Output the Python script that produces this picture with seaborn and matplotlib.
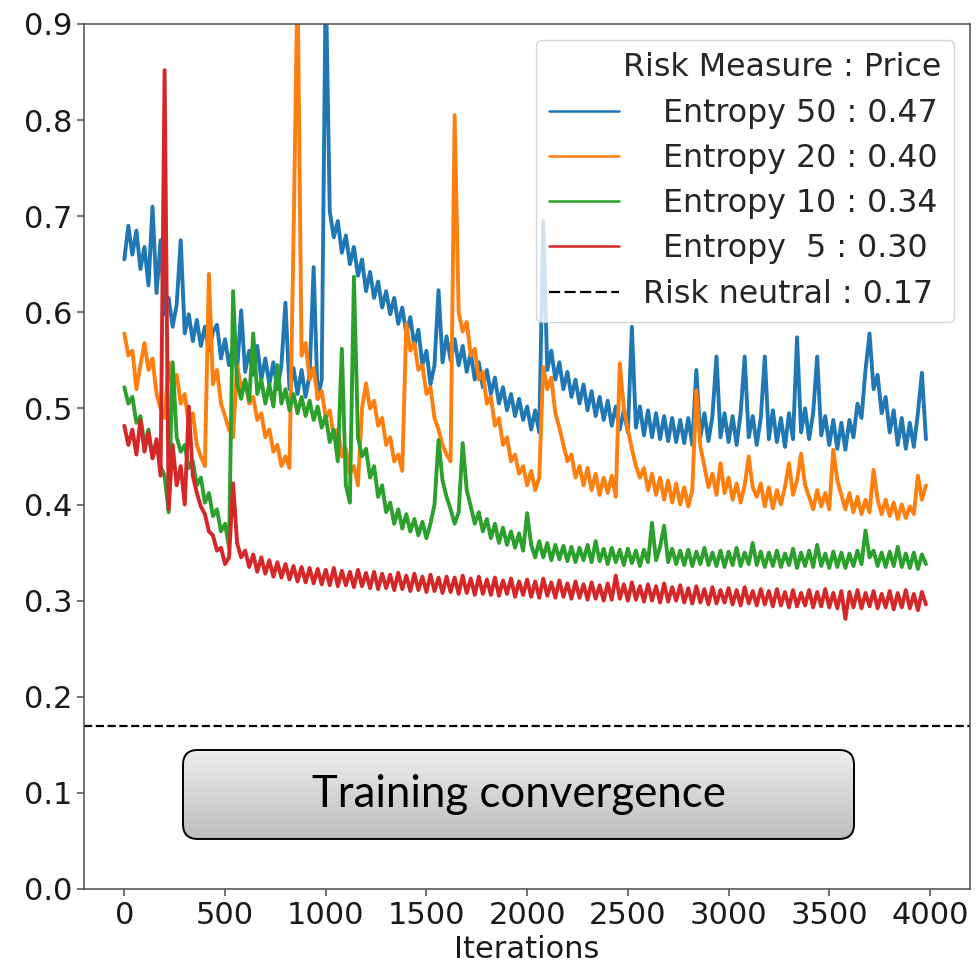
import numpy as np
import pandas as pd
import matplotlib
matplotlib.use("Agg")
import matplotlib.pyplot as plt
from matplotlib.lines import Line2D
from matplotlib.patches import FancyBboxPatch
import seaborn as sns

# ---- data ---------------------------------------------------------------
iterations = np.arange(0, 4000, 20)

entropy_50 = [
    0.655, 0.690, 0.660, 0.685, 0.645, 0.668, 0.628, 0.710, 0.620, 0.675,
    0.598, 0.615, 0.585, 0.608, 0.675, 0.578, 0.598, 0.570, 0.592, 0.565,
    0.585, 0.560, 0.580, 0.587, 0.552, 0.572, 0.545, 0.565, 0.540, 0.602,
    0.538, 0.560, 0.535, 0.565, 0.530, 0.552, 0.525, 0.548, 0.520, 0.545,
    0.610, 0.520, 0.542, 0.515, 0.540, 0.512, 0.535, 0.647, 0.510, 0.530,
    0.950, 0.705, 0.678, 0.695, 0.662, 0.680, 0.650, 0.668, 0.638, 0.655,
    0.622, 0.642, 0.615, 0.632, 0.605, 0.622, 0.598, 0.615, 0.588, 0.605,
    0.578, 0.595, 0.565, 0.582, 0.545, 0.560, 0.525, 0.545, 0.623, 0.548,
    0.575, 0.550, 0.572, 0.545, 0.565, 0.538, 0.558, 0.530, 0.548, 0.522,
    0.540, 0.515, 0.532, 0.505, 0.522, 0.498, 0.515, 0.492, 0.510, 0.488,
    0.502, 0.478, 0.498, 0.475, 0.695, 0.540, 0.560, 0.530, 0.548, 0.520,
    0.538, 0.512, 0.530, 0.505, 0.525, 0.498, 0.518, 0.492, 0.512, 0.488,
    0.508, 0.482, 0.502, 0.478, 0.498, 0.475, 0.585, 0.480, 0.502, 0.472,
    0.498, 0.470, 0.495, 0.468, 0.492, 0.466, 0.490, 0.465, 0.488, 0.464,
    0.490, 0.462, 0.540, 0.470, 0.495, 0.466, 0.492, 0.554, 0.470, 0.495,
    0.465, 0.492, 0.462, 0.495, 0.554, 0.470, 0.492, 0.462, 0.490, 0.554,
    0.468, 0.498, 0.465, 0.490, 0.460, 0.495, 0.468, 0.574, 0.475, 0.500,
    0.468, 0.495, 0.554, 0.472, 0.492, 0.462, 0.488, 0.458, 0.485, 0.457,
    0.488, 0.470, 0.505, 0.490, 0.540, 0.578, 0.520, 0.535, 0.495, 0.512,
    0.475, 0.498, 0.462, 0.490, 0.458, 0.485, 0.460, 0.495, 0.537, 0.468,
]

entropy_20 = [
    0.578, 0.555, 0.560, 0.520, 0.545, 0.568, 0.540, 0.552, 0.515, 0.500,
    0.490, 0.548, 0.520, 0.535, 0.505, 0.515, 0.482, 0.495, 0.462, 0.450,
    0.440, 0.640, 0.525, 0.540, 0.505, 0.492, 0.478, 0.470, 0.545, 0.520,
    0.530, 0.505, 0.512, 0.488, 0.495, 0.470, 0.478, 0.455, 0.462, 0.440,
    0.450, 0.438, 0.675, 0.950, 0.555, 0.568, 0.530, 0.542, 0.510, 0.518,
    0.490, 0.498, 0.470, 0.478, 0.450, 0.458, 0.432, 0.440, 0.420, 0.500,
    0.526, 0.500, 0.508, 0.482, 0.490, 0.462, 0.470, 0.445, 0.452, 0.435,
    0.588, 0.560, 0.568, 0.540, 0.545, 0.515, 0.522, 0.490, 0.478, 0.462,
    0.452, 0.445, 0.805, 0.600, 0.580, 0.590, 0.555, 0.562, 0.530, 0.538,
    0.505, 0.512, 0.482, 0.490, 0.462, 0.470, 0.445, 0.452, 0.432, 0.440,
    0.420, 0.435, 0.415, 0.428, 0.543, 0.520, 0.532, 0.495, 0.480, 0.462,
    0.445, 0.452, 0.428, 0.440, 0.420, 0.438, 0.415, 0.432, 0.410, 0.428,
    0.412, 0.430, 0.408, 0.547, 0.500, 0.478, 0.458, 0.440, 0.428, 0.438,
    0.415, 0.432, 0.410, 0.428, 0.405, 0.425, 0.402, 0.422, 0.400, 0.418,
    0.398, 0.415, 0.519, 0.460, 0.440, 0.418, 0.432, 0.410, 0.443, 0.412,
    0.428, 0.405, 0.422, 0.402, 0.420, 0.450, 0.418, 0.408, 0.422, 0.398,
    0.418, 0.396, 0.415, 0.400, 0.418, 0.443, 0.410, 0.425, 0.453, 0.420,
    0.408, 0.395, 0.415, 0.398, 0.412, 0.395, 0.457, 0.425, 0.410, 0.395,
    0.412, 0.392, 0.408, 0.390, 0.405, 0.392, 0.436, 0.405, 0.390, 0.405,
    0.388, 0.402, 0.385, 0.400, 0.386, 0.398, 0.390, 0.430, 0.405, 0.420,
]

entropy_10 = [
    0.522, 0.505, 0.512, 0.485, 0.492, 0.462, 0.478, 0.448, 0.465, 0.440,
    0.430, 0.392, 0.548, 0.470, 0.455, 0.462, 0.438, 0.445, 0.420, 0.428,
    0.402, 0.412, 0.388, 0.395, 0.372, 0.380, 0.355, 0.622, 0.525, 0.510,
    0.530, 0.508, 0.578, 0.515, 0.530, 0.505, 0.525, 0.502, 0.545, 0.505,
    0.520, 0.498, 0.515, 0.495, 0.512, 0.492, 0.508, 0.488, 0.502, 0.480,
    0.492, 0.465, 0.478, 0.445, 0.562, 0.420, 0.402, 0.637, 0.470, 0.450,
    0.458, 0.428, 0.440, 0.408, 0.420, 0.392, 0.402, 0.380, 0.395, 0.375,
    0.390, 0.372, 0.385, 0.368, 0.382, 0.365, 0.380, 0.400, 0.467, 0.425,
    0.408, 0.395, 0.380, 0.392, 0.464, 0.415, 0.398, 0.380, 0.392, 0.372,
    0.385, 0.365, 0.380, 0.360, 0.376, 0.358, 0.372, 0.355, 0.370, 0.352,
    0.391, 0.358, 0.345, 0.362, 0.345, 0.360, 0.342, 0.358, 0.343, 0.357,
    0.341, 0.356, 0.340, 0.355, 0.342, 0.358, 0.340, 0.362, 0.341, 0.354,
    0.338, 0.355, 0.340, 0.353, 0.337, 0.354, 0.339, 0.352, 0.336, 0.353,
    0.340, 0.381, 0.342, 0.356, 0.378, 0.340, 0.354, 0.338, 0.352, 0.337,
    0.353, 0.336, 0.351, 0.338, 0.355, 0.337, 0.350, 0.336, 0.352, 0.335,
    0.351, 0.337, 0.355, 0.336, 0.350, 0.338, 0.360, 0.337, 0.351, 0.335,
    0.350, 0.336, 0.352, 0.335, 0.349, 0.337, 0.354, 0.334, 0.350, 0.336,
    0.352, 0.335, 0.358, 0.336, 0.349, 0.334, 0.351, 0.335, 0.350, 0.334,
    0.349, 0.336, 0.352, 0.338, 0.373, 0.345, 0.352, 0.336, 0.350, 0.335,
    0.351, 0.336, 0.356, 0.335, 0.349, 0.334, 0.350, 0.333, 0.348, 0.338,
]

entropy_5 = [
    0.482, 0.462, 0.478, 0.452, 0.488, 0.455, 0.475, 0.448, 0.468, 0.430,
    0.852, 0.395, 0.462, 0.420, 0.440, 0.400, 0.502, 0.430, 0.412, 0.398,
    0.390, 0.372, 0.368, 0.352, 0.355, 0.338, 0.345, 0.422, 0.360, 0.345,
    0.352, 0.335, 0.348, 0.330, 0.345, 0.328, 0.342, 0.325, 0.340, 0.324,
    0.338, 0.322, 0.336, 0.320, 0.335, 0.319, 0.334, 0.318, 0.333, 0.317,
    0.332, 0.316, 0.334, 0.315, 0.331, 0.316, 0.330, 0.314, 0.332, 0.315,
    0.329, 0.313, 0.330, 0.312, 0.328, 0.313, 0.327, 0.311, 0.329, 0.312,
    0.326, 0.310, 0.328, 0.311, 0.325, 0.309, 0.327, 0.310, 0.324, 0.308,
    0.325, 0.309, 0.324, 0.307, 0.326, 0.308, 0.323, 0.306, 0.325, 0.307,
    0.322, 0.306, 0.324, 0.305, 0.321, 0.307, 0.323, 0.304, 0.320, 0.306,
    0.322, 0.304, 0.320, 0.303, 0.323, 0.305, 0.319, 0.303, 0.321, 0.304,
    0.318, 0.302, 0.320, 0.303, 0.317, 0.301, 0.319, 0.302, 0.316, 0.300,
    0.318, 0.301, 0.326, 0.302, 0.317, 0.300, 0.319, 0.301, 0.315, 0.299,
    0.317, 0.300, 0.315, 0.298, 0.318, 0.299, 0.314, 0.300, 0.316, 0.298,
    0.313, 0.297, 0.315, 0.298, 0.312, 0.296, 0.314, 0.297, 0.311, 0.298,
    0.313, 0.296, 0.311, 0.295, 0.314, 0.297, 0.310, 0.295, 0.312, 0.296,
    0.310, 0.294, 0.312, 0.295, 0.309, 0.293, 0.311, 0.294, 0.308, 0.295,
    0.311, 0.293, 0.309, 0.294, 0.312, 0.293, 0.308, 0.292, 0.310, 0.281,
    0.309, 0.293, 0.311, 0.292, 0.308, 0.294, 0.310, 0.292, 0.307, 0.293,
    0.310, 0.291, 0.308, 0.293, 0.311, 0.292, 0.307, 0.290, 0.309, 0.296,
]

risk_neutral_price = 0.17

series_labels = [
    "    Entropy 50 : 0.47",
    "    Entropy 20 : 0.40",
    "    Entropy 10 : 0.34",
    "    Entropy  5 : 0.30",
]
series_colors = ["#1f77b4", "#ff7f0e", "#2ca02c", "#d62728"]
legend_header = "Risk Measure : Price"
neutral_label = "  Risk neutral : 0.17"

y_ticks = [0.0, 0.1, 0.2, 0.3, 0.4, 0.5, 0.6, 0.7, 0.8, 0.9]
x_ticks = [0, 500, 1000, 1500, 2000, 2500, 3000, 3500, 4000]

# ---- style --------------------------------------------------------------
sns.set_style("ticks")
plt.rcParams["font.family"] = ["DejaVu Sans"]
plt.rcParams["axes.edgecolor"] = "#4d4d4d"
plt.rcParams["axes.linewidth"] = 1.1
plt.rcParams["xtick.color"] = "#4d4d4d"
plt.rcParams["ytick.color"] = "#4d4d4d"
plt.rcParams["xtick.labelcolor"] = "#1a1a1a"
plt.rcParams["ytick.labelcolor"] = "#1a1a1a"

fig = plt.figure(figsize=(9.76, 9.67), dpi=100)
ax = fig.add_axes([0.0861, 0.0807, 0.9078, 0.8945])

frame = pd.DataFrame({
    "Iterations": np.tile(iterations, 4),
    "price": entropy_50 + entropy_20 + entropy_10 + entropy_5,
    "measure": np.repeat(series_labels, len(iterations)),
})

sns.lineplot(data=frame, x="Iterations", y="price", hue="measure",
             hue_order=series_labels, palette=series_colors,
             linewidth=2.8, estimator=None, sort=False, legend=False, ax=ax)

ax.axhline(risk_neutral_price, color="black", linestyle="--", linewidth=1.6)

ax.set_ylim(0.0, 0.9)
ax.set_xlim(-200, 4199)
ax.set_yticks(y_ticks)
ax.set_yticklabels([f"{v:.1f}" for v in y_ticks])
ax.set_xticks(x_ticks)
ax.tick_params(axis="both", labelsize=22, length=5, width=1.1)
ax.set_xlabel("Iterations", fontsize=22, color="#1a1a1a")
ax.set_ylabel("")

# legend: header row without a handle, then the series and the benchmark
handles = [Line2D([], [], color="none")]
handles += [Line2D([], [], color=c, linewidth=1.8) for c in series_colors]
handles += [Line2D([], [], color="black", linestyle=(0, (5, 2)),
                   linewidth=1.6)]
labels = [legend_header] + series_labels + [neutral_label]
leg = ax.legend(handles, labels, loc="upper right", fontsize=22.8,
                frameon=True, fancybox=True, framealpha=0.8,
                edgecolor="#cccccc", handlelength=2.2, handletextpad=0.15,
                borderpad=0.4, labelspacing=0.45)

# ---- "Training convergence" callout box with a grey gradient ---------------
box_ax = fig.add_axes([0.1875, 0.1324, 0.6875, 0.0920])
box_ax.set_axis_off()
box_ax.set_xlim(0, 1)
box_ax.set_ylim(0, 1)
shape_kw = dict(boxstyle="round,pad=0,rounding_size=0.022",
                mutation_aspect=7.54, transform=box_ax.transAxes)
clip_shape = FancyBboxPatch((0, 0), 1, 1, facecolor="none",
                            edgecolor="none", **shape_kw)
box_ax.add_patch(clip_shape)
gradient = np.linspace(0.93, 0.74, 256).reshape(-1, 1)
img = box_ax.imshow(gradient, cmap="gray", vmin=0, vmax=1, aspect="auto",
                    origin="upper", extent=[0, 1, 0, 1],
                    interpolation="bicubic")
img.set_clip_path(clip_shape)
border = FancyBboxPatch((0, 0), 1, 1, facecolor="none", edgecolor="black",
                        linewidth=1.4, clip_on=False, **shape_kw)
box_ax.add_patch(border)
box_ax.text(0.5, 0.5, "Training convergence", ha="center", va="center",
            fontsize=31.5, family=["Lato", "DejaVu Sans"], color="black",
            transform=box_ax.transAxes)

fig.savefig("out.png", dpi=100)
